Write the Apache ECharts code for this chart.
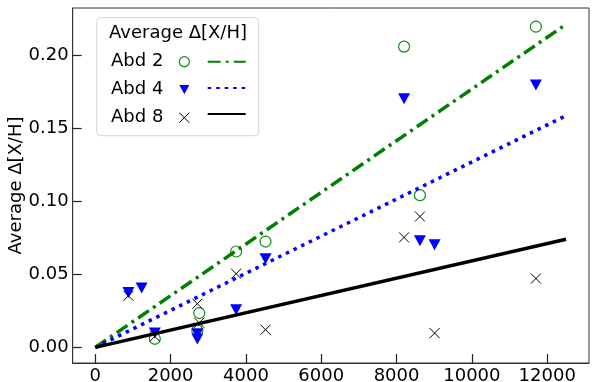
<!DOCTYPE html>
<html>
<head>
<meta charset="utf-8">
<script src="https://cdn.jsdelivr.net/npm/echarts@6/dist/echarts.min.js"></script>
<style>
  html, body { margin: 0; padding: 0; background: #fff; }
  #main { width: 598px; height: 382px; }
</style>
</head>
<body>
<div id="main"></div>
<script>
// data: [x, average delta]
var abd2 = [[8200, 0.2057], [11700, 0.2193], [8620, 0.1041], [3740, 0.0656], [4520, 0.0724],
    [2760, 0.0235], [2710, 0.0116], [1580, 0.0059]];
var abd4 = [[8200, 0.170], [11700, 0.1795], [8620, 0.0729], [9010, 0.0702], [880, 0.0376],
    [1230, 0.0406], [4520, 0.0606], [3740, 0.0258], [1580, 0.0098], [2710, 0.0094], [2710, 0.0057]];
var abd8 = [[880, 0.0353], [3740, 0.0504], [2710, 0.0299], [2760, 0.0169], [4520, 0.0121],
    [1580, 0.0075], [8620, 0.0895], [8200, 0.0752], [11700, 0.0471], [9010, 0.0098]];
// fitted lines through the origin
var fit2 = [[0, 0], [12500, 0.2209]];
var fit4 = [[0, 0], [12500, 0.1585]];
var fit8 = [[0, 0], [12500, 0.0740]];
var xTicks = [0, 2000, 4000, 6000, 8000, 10000, 12000];
var yTicks = [0, 0.05, 0.10, 0.15, 0.20];

var font = 'DejaVu Sans';
var green = '#138a13';
var myChart = echarts.init(document.getElementById('main'));

var option = {
    animation: false,
    textStyle: {fontFamily: font},
    grid: {
        left: 72.7, right: 9, top: 8, bottom: 19,
        outerBoundsMode: 'none',
        containLabel: false,
        show: true, borderColor: '#333', borderWidth: 1
    },
    xAxis: {
        type: 'value',
        min: -600, max: 13110,
        splitLine: {show: false},
        axisLine: {onZero: false, lineStyle: {color: '#333'}},
        axisTick: {inside: true, length: 9, lineStyle: {color: '#222', width: 1.2}, customValues: xTicks},
        axisLabel: {
            color: '#000', fontSize: 18, margin: 4, customValues: xTicks,
            formatter: function (v) { return String(v); }
        }
    },
    yAxis: {
        type: 'value',
        min: -0.01066, max: 0.2321,
        name: 'Average Δ[X/H]',
        nameLocation: 'middle',
        nameGap: 47,
        nameMoveOverlap: false,
        nameTextStyle: {color: '#000', fontSize: 18},
        splitLine: {show: false},
        axisLine: {onZero: false, lineStyle: {color: '#333'}},
        axisTick: {inside: true, length: 9, lineStyle: {color: '#222', width: 1.2}, customValues: yTicks},
        axisLabel: {
            color: '#000', fontSize: 18, margin: 4, customValues: yTicks,
            formatter: function (v) { return v.toFixed(2); }
        }
    },
    graphic: [
        {
            type: 'rect', z: 1,
            shape: {x: 96.7, y: 17.7, width: 162, height: 118, r: 4},
            style: {fill: 'rgba(255,255,255,0.8)', stroke: '#d6d6d6', lineWidth: 1}
        },
        {
            type: 'text', z: 2, x: 178, y: 33,
            style: {text: 'Average Δ[X/H]', fill: '#000', font: '18px "DejaVu Sans"', align: 'center', verticalAlign: 'middle'}
        }
    ],
    legend: [
        {
            data: [
                {name: 'Abd 2', icon: 'circle',
                    itemStyle: {color: 'rgba(0,0,0,0)', borderColor: green, borderWidth: 1.2}},
                {name: 'Abd 4', icon: 'path://M0,0L12,0L6,11Z',
                    itemStyle: {color: '#0000ff', borderWidth: 0}},
                {name: 'Abd 8', icon: 'path://M0,0L10,10M10,0L0,10',
                    itemStyle: {color: 'rgba(0,0,0,0)', borderColor: '#000', borderWidth: 1}}
            ],
            orient: 'vertical', align: 'right',
            left: 111, top: 52.7,
            itemWidth: 10, itemHeight: 10, itemGap: 10,
            padding: 0,
            textStyle: {fontSize: 18, color: '#000', padding: [0, 11, 0, 0]}
        },
        {
            data: ['fit 2', 'fit 4', 'fit 8'],
            orient: 'vertical',
            left: 206.7, top: 52.7,
            itemWidth: 38, itemHeight: 18, itemGap: 10,
            padding: 0,
            itemStyle: {color: 'rgba(0,0,0,0)', borderWidth: 0, opacity: 0},
            textStyle: {fontSize: 18},
            formatter: function () { return ''; }
        }
    ],
    series: [
        {
            name: 'fit 2', type: 'line', data: fit2, symbol: 'none',
            lineStyle: {color: '#008000', width: 3.5, type: [13, 5, 3, 5]},
            itemStyle: {color: '#008000'}
        },
        {
            name: 'fit 4', type: 'line', data: fit4, symbol: 'none',
            lineStyle: {color: '#0000ff', width: 3.5, type: [3.5, 5]},
            itemStyle: {color: '#0000ff'}
        },
        {
            name: 'fit 8', type: 'line', data: fit8, symbol: 'none',
            lineStyle: {color: '#000', width: 3.5},
            itemStyle: {color: '#000'}
        },
        {
            name: 'Abd 2', type: 'scatter', data: abd2,
            symbol: 'circle', symbolSize: 11,
            itemStyle: {color: 'rgba(0,0,0,0)', borderColor: green, borderWidth: 1.2, opacity: 1}
        },
        {
            name: 'Abd 4', type: 'scatter', data: abd4,
            symbol: 'triangle', symbolRotate: 180, symbolSize: [12, 11],
            itemStyle: {color: '#0000ff', opacity: 1}
        },
        {
            name: 'Abd 8', type: 'scatter', data: abd8,
            symbol: 'path://M0,0L10,10M10,0L0,10', symbolSize: 10,
            itemStyle: {color: 'rgba(0,0,0,0)', borderColor: '#000', borderWidth: 1, opacity: 1}
        }
    ]
};
myChart.setOption(option);
</script>
</body>
</html>
